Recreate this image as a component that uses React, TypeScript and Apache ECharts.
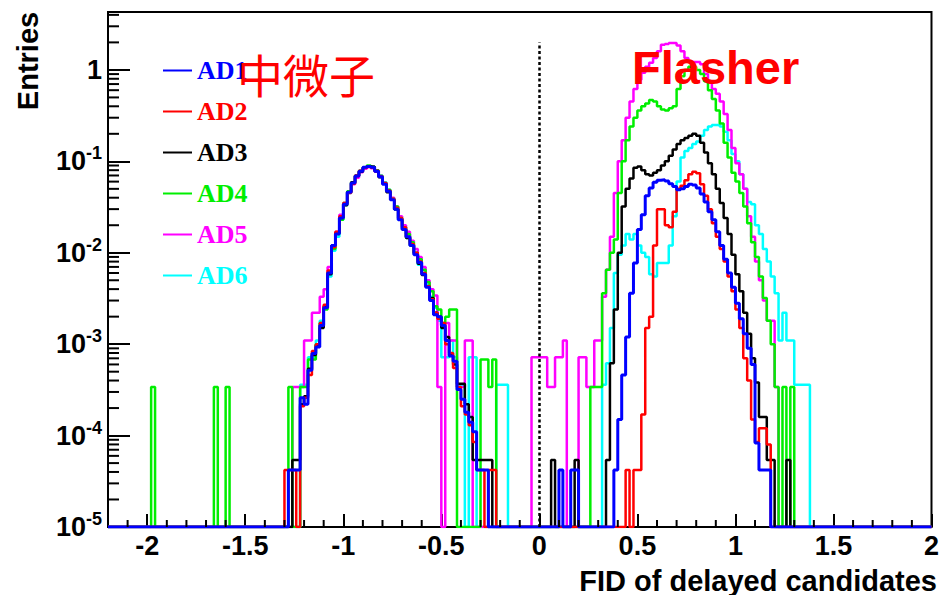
import React, { useEffect, useRef } from 'react';
import * as echarts from 'echarts';

// ---------- axis ranges / binning ----------
const BIN_WIDTH = 0.02;
const X_MIN = -2.2;
const X_MAX = 2.0;
const Y_MIN = 1e-5;
const Y_MAX = 4.3;

// left edge of the first bin of each "muon" array and each "flasher" array
const MUON_FIRST_EDGE = -1.3;
const FLASHER_FIRST_EDGE = -0.06;

const seriesNames = ['AD1', 'AD2', 'AD3', 'AD4', 'AD5', 'AD6'];
const seriesColors = ['#0000ff', '#ff0000', '#000000', '#00ee00', '#ff00ff', '#00ffff'];

// ---------- muon-like peak, bins from -1.30 to -0.14 (58 bins) ----------
const ad1Muon = [
  0, 4.2e-5, 4.2e-5, 4.2e-5, 2.6e-4, 2.2e-4, 5.2e-4, 7.9e-4, 9.3e-4,
  1.6e-3, 2.5e-3, 6e-3, 1.2e-2, 1.6e-2, 2.4e-2, 3.4e-2, 4.6e-2, 5.8e-2, 6.9e-2,
  7.8e-2, 8.6e-2, 8.8e-2, 8.6e-2, 7.8e-2, 6.8e-2, 5.6e-2, 4.7e-2, 3.8e-2, 3.0e-2,
  2.3e-2, 1.8e-2, 1.5e-2, 1.2e-2, 9.5e-3, 7.8e-3, 5.8e-3, 4.2e-3, 3.0e-3, 2.1e-3,
  2.0e-3, 1.6e-3, 1.1e-3, 7.4e-4, 6.5e-4, 3.2e-4, 2.5e-4, 1.8e-4, 1.4e-4, 1.1e-4,
  4.2e-5, 4.2e-5, 4.2e-5, 0, 0, 0, 0, 0, 0,
];
const ad2Muon = [
  4.2e-5, 4.2e-5, 4.2e-5, 0, 2.1e-4, 2.6e-4, 4.6e-4, 8.4e-4, 1.0e-3,
  1.7e-3, 2.7e-3, 6.4e-3, 1.15e-2, 1.7e-2, 2.5e-2, 3.5e-2, 4.5e-2, 5.7e-2, 7.0e-2,
  7.9e-2, 8.5e-2, 8.7e-2, 8.5e-2, 7.9e-2, 6.9e-2, 5.8e-2, 4.8e-2, 3.9e-2, 3.1e-2,
  2.4e-2, 1.9e-2, 1.5e-2, 1.25e-2, 1.0e-2, 8.0e-3, 6.0e-3, 4.3e-3, 3.1e-3, 2.2e-3,
  1.9e-3, 1.7e-3, 1.0e-3, 8.0e-4, 5.5e-4, 3.4e-4, 2.1e-4, 1.7e-4, 1.3e-4, 8.5e-5,
  4.2e-5, 4.2e-5, 0, 4.2e-5, 4.2e-5, 0, 0, 0, 0,
];
const ad3Muon = [
  0, 0, 5.4e-5, 5.4e-5, 2.2e-4, 2.7e-4, 5.4e-4, 7.6e-4, 9.7e-4,
  1.5e-3, 2.6e-3, 5.8e-3, 1.2e-2, 1.65e-2, 2.4e-2, 3.3e-2, 4.6e-2, 5.9e-2, 6.9e-2,
  7.7e-2, 8.5e-2, 8.8e-2, 8.7e-2, 7.8e-2, 6.7e-2, 5.7e-2, 4.6e-2, 3.8e-2, 3.0e-2,
  2.35e-2, 1.8e-2, 1.45e-2, 1.2e-2, 9.8e-3, 7.6e-3, 5.7e-3, 4.3e-3, 3.2e-3, 2.2e-3,
  2.0e-3, 1.5e-3, 1.2e-3, 7.6e-4, 6.0e-4, 3.7e-4, 3.7e-4, 2.2e-4, 1.6e-4, 5.4e-5,
  5.4e-5, 5.4e-5, 5.4e-5, 5.4e-5, 0, 0, 0, 0, 0,
];
const ad4Muon = [
  0, 3.4e-4, 0, 0, 3.4e-4, 3.4e-4, 6.8e-4, 6.8e-4, 1.0e-3,
  1.7e-3, 2.4e-3, 6.1e-3, 1.1e-2, 1.6e-2, 2.3e-2, 3.5e-2, 4.7e-2, 5.9e-2, 7.0e-2,
  7.9e-2, 8.6e-2, 9.0e-2, 8.7e-2, 8.0e-2, 6.9e-2, 5.8e-2, 4.9e-2, 3.9e-2, 3.2e-2,
  2.4e-2, 1.9e-2, 1.6e-2, 1.3e-2, 1.0e-2, 8.5e-3, 6.5e-3, 4.8e-3, 3.8e-3, 2.6e-3,
  2.4e-3, 1.7e-3, 2.0e-3, 2.4e-3, 2.4e-3, 0, 0, 0, 0, 0,
  0, 6.8e-4, 6.8e-4, 3.4e-4, 6.8e-4, 0, 0, 0, 0,
];
const ad5Muon = [
  0, 0, 3.4e-4, 3.4e-4, 3.4e-4, 1.1e-3, 1.1e-3, 2.2e-3, 2.2e-3,
  3.3e-3, 4.0e-3, 7.0e-3, 1.2e-2, 1.7e-2, 2.6e-2, 3.5e-2, 4.6e-2, 5.6e-2, 6.6e-2,
  7.6e-2, 8.3e-2, 8.6e-2, 8.4e-2, 7.7e-2, 6.8e-2, 5.8e-2, 4.8e-2, 4.0e-2, 3.2e-2,
  2.5e-2, 2.0e-2, 1.7e-2, 1.35e-2, 1.1e-2, 9.0e-3, 7.0e-3, 5.0e-3, 4.0e-3, 3.4e-3,
  3.4e-4, 0, 1.7e-3, 1.1e-3, 1.1e-3, 3.4e-4, 3.4e-4, 1.1e-3, 1.1e-3, 0,
  0, 0, 0, 0, 0, 0, 0, 0, 0,
];
const ad6Muon = [
  0, 0, 0, 0, 3.6e-4, 3.6e-4, 7.2e-4, 7.2e-4, 1.1e-3,
  1.8e-3, 2.5e-3, 5.5e-3, 1.05e-2, 1.5e-2, 2.3e-2, 3.3e-2, 4.5e-2, 5.8e-2, 6.8e-2,
  7.7e-2, 8.4e-2, 8.7e-2, 8.5e-2, 7.9e-2, 7.0e-2, 5.9e-2, 4.9e-2, 3.9e-2, 3.0e-2,
  2.3e-2, 1.85e-2, 1.45e-2, 1.2e-2, 9.6e-3, 7.4e-3, 6.0e-3, 4.5e-3, 3.3e-3, 2.5e-3,
  1.8e-3, 7.2e-4, 7.2e-4, 1.1e-3, 7.2e-4, 3.6e-4, 3.6e-4, 0, 7.2e-4, 7.2e-4,
  0, 0, 0, 0, 0, 3.6e-4, 3.6e-4, 3.6e-4, 0,
];

// ---------- flasher region, bins from -0.06 to 1.40 (73 bins) ----------
const ad1Flasher = [
  0, 0, 0, 0, 0, 0, 0, 0, 4.2e-5, 0,
  0, 4.2e-5, 4.2e-5, 0, 0, 0, 0, 0, 0, 0,
  0, 0, 4.2e-5, 1.5e-4, 4.6e-4, 1.2e-3, 3.6e-3, 7.7e-3, 1.8e-2, 2.6e-2,
  4.2e-2, 5.1e-2, 5.9e-2, 6.2e-2, 6.3e-2, 6.1e-2, 5.7e-2, 5.3e-2, 4.9e-2, 5.0e-2,
  5.3e-2, 5.6e-2, 5.5e-2, 5.1e-2, 4.4e-2, 3.6e-2, 2.8e-2, 2.3e-2, 1.7e-2, 1.2e-2,
  8.5e-3, 6.0e-3, 4.2e-3, 2.8e-3, 1.9e-3, 1.3e-3, 9e-4, 6e-4, 8.3e-5, 4.2e-5,
  4.2e-5, 4.2e-5, 0, 0, 0, 0, 0, 0, 0, 0,
  0, 0, 0,
];
const ad2Flasher = [
  0, 0, 0, 0, 0, 0, 0, 0, 0, 0,
  0, 0, 0, 0, 0, 0, 0, 0, 0, 0,
  0, 0, 0, 0, 0, 4.2e-5, 0, 4.2e-5, 4.2e-5, 1.7e-4,
  1.5e-3, 2.0e-3, 1.2e-2, 3.0e-2, 3.0e-2, 2.0e-2, 1.9e-2, 2.8e-2, 5.0e-2, 5.4e-2,
  6.2e-2, 7.2e-2, 7.7e-2, 7.4e-2, 5.6e-2, 4.2e-2, 3.0e-2, 2.1e-2, 1.5e-2, 1.1e-2,
  8e-3, 5.5e-3, 3.8e-3, 2.4e-3, 1.5e-3, 7e-4, 4e-4, 1.5e-4, 8.5e-5, 1.2e-4,
  1.2e-4, 8e-5, 0, 0, 0, 0, 0, 0, 0, 0,
  0, 0, 0,
];
const ad3Flasher = [
  0, 0, 0, 0, 0, 0, 5.4e-5, 0, 0, 0,
  0, 0, 5.4e-5, 0, 0, 0, 0, 0, 0, 0,
  5.4e-5, 6.2e-4, 2.4e-3, 1.0e-2, 3.2e-2, 5.0e-2, 6.5e-2, 8.5e-2, 8.8e-2, 8.0e-2,
  7.2e-2, 7.0e-2, 7.5e-2, 8.0e-2, 9.0e-2, 0.1, 0.115, 0.135, 0.155, 0.17,
  0.18, 0.19, 0.2, 0.19, 0.16, 0.125, 0.095, 0.072, 0.05, 0.035,
  0.024, 0.016, 0.0095, 0.0058, 0.0038, 0.0022, 0.0013, 7e-4, 3.8e-4, 1.6e-4,
  1.6e-4, 5.4e-5, 5.4e-5, 0, 0, 0, 5.4e-5, 0, 0, 0,
  0, 0, 0,
];
const ad4Flasher = [
  0, 0, 0, 0, 0, 0, 0, 0, 0, 0,
  0, 0, 0, 0, 0, 0, 3.4e-4, 3.4e-4, 3.4e-4, 3.6e-3,
  6.5e-3, 1.0e-2, 1.4e-2, 4.5e-2, 0.1, 0.17, 0.24, 0.3, 0.36, 0.4,
  0.43, 0.47, 0.45, 0.4, 0.37, 0.36, 0.38, 0.4, 0.62, 0.85,
  1.0, 1.08, 1.08, 1.0, 0.9, 0.75, 0.6, 0.48, 0.36, 0.26,
  0.16, 0.11, 0.075, 0.06, 0.045, 0.032, 0.021, 0.013, 9e-3, 5.5e-3,
  3.2e-3, 1.8e-3, 1.0e-3, 3.4e-4, 0, 3.4e-4, 0, 3.4e-4, 0, 0,
  0, 0, 0,
];
const ad5Flasher = [
  0, 7.2e-4, 7.2e-4, 7.2e-4, 7.2e-4, 3.4e-4, 3.4e-4, 7.2e-4, 7.2e-4, 1.1e-3,
  0, 0, 0, 7.2e-4, 7.2e-4, 3.4e-4, 3.4e-4, 1.1e-3, 1.1e-3, 3.3e-3,
  6.5e-3, 1.5e-2, 4.5e-2, 0.1, 0.17, 0.3, 0.45, 0.62, 0.78, 0.93,
  1.08, 1.2, 1.35, 1.6, 1.88, 1.92, 1.97, 1.97, 1.85, 1.6,
  1.35, 1.22, 1.22, 1.22, 1.15, 0.9, 0.75, 0.62, 0.55, 0.45,
  0.33, 0.22, 0.14, 0.095, 0.072, 0.05, 0.025, 0.015, 8e-3, 5e-3,
  3e-3, 1.8e-3, 1.8e-3, 3.4e-4, 0, 0, 0, 0, 0, 0,
  0, 0, 0,
];
const ad6Flasher = [
  0, 0, 0, 0, 0, 0, 0, 0, 0, 0,
  0, 0, 0, 0, 0, 0, 0, 0, 0, 3.6e-4,
  6.2e-4, 1.5e-3, 6e-3, 9.5e-3, 1.2e-2, 1.6e-2, 1.4e-2, 1.6e-2, 1.2e-2, 1.0e-2,
  9e-3, 5.8e-3, 5.5e-3, 7.7e-3, 7.7e-3, 7.7e-3, 1.2e-2, 2.5e-2, 6e-2, 0.11,
  0.13, 0.14, 0.155, 0.165, 0.19, 0.22, 0.24, 0.25, 0.25, 0.24,
  0.21, 0.17, 0.12, 0.1, 0.072, 0.05, 0.036, 0.034, 0.02, 0.016,
  0.011, 8e-3, 5.5e-3, 3.6e-3, 1.1e-3, 2.2e-3, 1.1e-3, 1.1e-3, 3.6e-4, 3.6e-4,
  3.6e-4, 3.6e-4, 0,
];

// isolated single bins: [bin left edge, entries]
const ad4Spikes: [number, number][] = [
  [-1.98, 3.4e-4],
  [-1.66, 3.4e-4],
  [-1.6, 3.4e-4],
];

const muonArrays = [ad1Muon, ad2Muon, ad3Muon, ad4Muon, ad5Muon, ad6Muon];
const flasherArrays = [ad1Flasher, ad2Flasher, ad3Flasher, ad4Flasher, ad5Flasher, ad6Flasher];
const spikeArrays: [number, number][][] = [[], [], [], ad4Spikes, [], []];

const SANS = '"Liberation Sans", Arial, Helvetica, sans-serif';
const SERIF = '"Liberation Serif", "Times New Roman", Times, serif';

function buildHistogram(muon: number[], flasher: number[], spikes: [number, number][]) {
  const n = Math.round((X_MAX - X_MIN) / BIN_WIDTH);
  const kMin = Math.round(X_MIN / BIN_WIDTH);
  const muonK0 = Math.round(MUON_FIRST_EDGE / BIN_WIDTH);
  const flK0 = Math.round(FLASHER_FIRST_EDGE / BIN_WIDTH);
  const vals: number[] = new Array(n).fill(0);
  muon.forEach((v, j) => {
    const i = muonK0 + j - kMin;
    if (i >= 0 && i < n) vals[i] = v;
  });
  flasher.forEach((v, j) => {
    const i = flK0 + j - kMin;
    if (i >= 0 && i < n) vals[i] = v;
  });
  spikes.forEach(([edge, v]) => {
    const i = Math.round(edge / BIN_WIDTH) - kMin;
    if (i >= 0 && i < n) vals[i] = v;
  });
  // empty bins are drawn on the lower frame, like ROOT does on a log scale
  const pts: number[][] = vals.map((v, i) => [
    Math.round((X_MIN + i * BIN_WIDTH) * 1000) / 1000,
    Math.max(v, Y_MIN),
  ]);
  pts.push([X_MAX, Math.max(vals[n - 1], Y_MIN)]);
  return pts;
}

// minor tick positions (axis decoration)
const yMinorTicks: number[] = [];
for (let e = -5; e <= 0; e++) {
  for (let m = 2; m <= 9; m++) {
    const v = m * Math.pow(10, e);
    if (v < Y_MAX) yMinorTicks.push(v);
  }
}
const xMinorTicks: number[] = [];
for (let j = -21; j <= 19; j++) {
  if (j % 5 !== 0) xMinorTicks.push(j / 10);
}

function buildOption() {
  const drawOrder = [5, 4, 3, 2, 1, 0]; // AD1 drawn last (on top)
  const histSeries: any[] = drawOrder.map((idx) => ({
    name: seriesNames[idx],
    type: 'line',
    step: 'end',
    symbol: 'none',
    showSymbol: false,
    clip: true,
    color: seriesColors[idx],
    lineStyle: { color: seriesColors[idx], width: idx === 0 ? 3 : 2.5 },
    emphasis: { disabled: true },
    data: buildHistogram(muonArrays[idx], flasherArrays[idx], spikeArrays[idx]),
    z: 3,
    ...(idx === 0
      ? {
          markLine: {
            silent: true,
            symbol: ['none', 'none'],
            label: { show: false },
            lineStyle: { type: [3, 2.5], color: '#000', width: 2.5 },
            data: [[{ coord: [0, Y_MIN] }, { coord: [0, 2] }]],
          },
        }
      : {}),
  }));

  const yMinorSeries = {
    name: 'yMinor',
    type: 'custom',
    silent: true,
    z: 4,
    data: yMinorTicks.map((v) => [X_MIN, v]),
    renderItem: (_p: any, api: any) => {
      const p = api.coord([api.value(0), api.value(1)]);
      return {
        type: 'line',
        shape: { x1: p[0], y1: p[1], x2: p[0] + 11, y2: p[1] },
        style: { stroke: '#000', lineWidth: 2 },
      };
    },
  };
  const xMinorSeries = {
    name: 'xMinor',
    type: 'custom',
    silent: true,
    z: 4,
    data: xMinorTicks.map((v) => [v, Y_MIN]),
    renderItem: (_p: any, api: any) => {
      const p = api.coord([api.value(0), api.value(1)]);
      return {
        type: 'line',
        shape: { x1: p[0], y1: p[1], x2: p[0], y2: p[1] - 7 },
        style: { stroke: '#000', lineWidth: 2 },
      };
    },
  };

  return {
    animation: false,
    backgroundColor: '#ffffff',
    grid: {
      left: 108,
      right: 7,
      top: 12,
      bottom: 68,
      show: true,
      borderColor: '#000',
      borderWidth: 2,
    },
    legend: {
      data: seriesNames.map((n, i) => ({ name: n, textStyle: { color: seriesColors[i] } })),
      orient: 'vertical',
      left: 163,
      top: 57,
      padding: 0,
      itemWidth: 29,
      itemHeight: 2,
      itemGap: 14,
      icon: 'rect',
      selectedMode: false,
      textStyle: { fontFamily: SERIF, fontWeight: 'bold', fontSize: 26, lineHeight: 27 },
    },
    xAxis: {
      type: 'value',
      min: X_MIN,
      max: X_MAX,
      splitNumber: 8,
      axisLine: { show: true, onZero: false, lineStyle: { color: '#000', width: 2 } },
      axisTick: { show: true, inside: true, length: 13, lineStyle: { color: '#000', width: 2 } },
      axisLabel: {
        showMinLabel: false,
        color: '#000',
        fontFamily: SANS,
        fontWeight: 'bold',
        fontSize: 27,
        margin: 5,
      },
      splitLine: { show: false },
    },
    yAxis: {
      type: 'log',
      logBase: 10,
      min: Y_MIN,
      max: Y_MAX,
      axisLine: { show: true, onZero: false, lineStyle: { color: '#000', width: 2 } },
      axisTick: { show: true, inside: true, length: 22, lineStyle: { color: '#000', width: 2 } },
      axisLabel: {
        showMaxLabel: false,
        margin: 6,
        formatter: (value: number) => {
          const l = Math.log10(value);
          const e = Math.round(l);
          if (Math.abs(l - e) > 1e-6) return '';
          if (e === 0) return '{b|1}';
          return '{b|10}{s|' + e + '}';
        },
        rich: {
          b: { fontSize: 27, fontWeight: 'bold', fontFamily: SANS, color: '#000', lineHeight: 34 },
          s: {
            fontSize: 18,
            fontWeight: 'bold',
            fontFamily: SANS,
            color: '#000',
            lineHeight: 16,
            verticalAlign: 'top',
          },
        },
      },
      splitLine: { show: false },
    },
    graphic: [
      {
        type: 'text',
        x: 28,
        y: 61,
        rotation: Math.PI / 2,
        style: {
          text: 'Entries',
          fill: '#000',
          fontFamily: SANS,
          fontWeight: 'bold',
          fontSize: 29,
          align: 'center',
          verticalAlign: 'middle',
        },
      },
      {
        type: 'text',
        x: 937,
        y: 566,
        style: {
          text: 'FID of delayed candidates',
          fill: '#000',
          fontFamily: SANS,
          fontWeight: 'bold',
          fontSize: 29,
          align: 'right',
          verticalAlign: 'top',
        },
      },
      {
        type: 'text',
        x: 237,
        y: 50,
        z: 10,
        style: {
          text: '中微子',
          fill: '#ff0000',
          fontFamily: '"Noto Sans CJK SC", sans-serif',
          fontSize: 46,
          align: 'left',
          verticalAlign: 'top',
        },
      },
      {
        type: 'text',
        x: 632,
        y: 44,
        z: 10,
        style: {
          text: 'Flasher',
          fill: '#ff0000',
          fontFamily: SANS,
          fontWeight: 'bold',
          fontSize: 47,
          align: 'left',
          verticalAlign: 'top',
        },
      },
    ],
    series: [...histSeries, yMinorSeries, xMinorSeries],
  };
}

export default function App() {
  const ref = useRef<HTMLDivElement>(null);
  useEffect(() => {
    if (!ref.current) return;
    const chart = echarts.init(ref.current, undefined, { renderer: 'svg' });
    chart.setOption(buildOption() as any);
    return () => {
      chart.dispose();
    };
  }, []);
  return (
    <div
      ref={ref}
      style={{ position: 'fixed', left: 0, top: 0, width: 942, height: 595, background: '#fff' }}
    />
  );
}
